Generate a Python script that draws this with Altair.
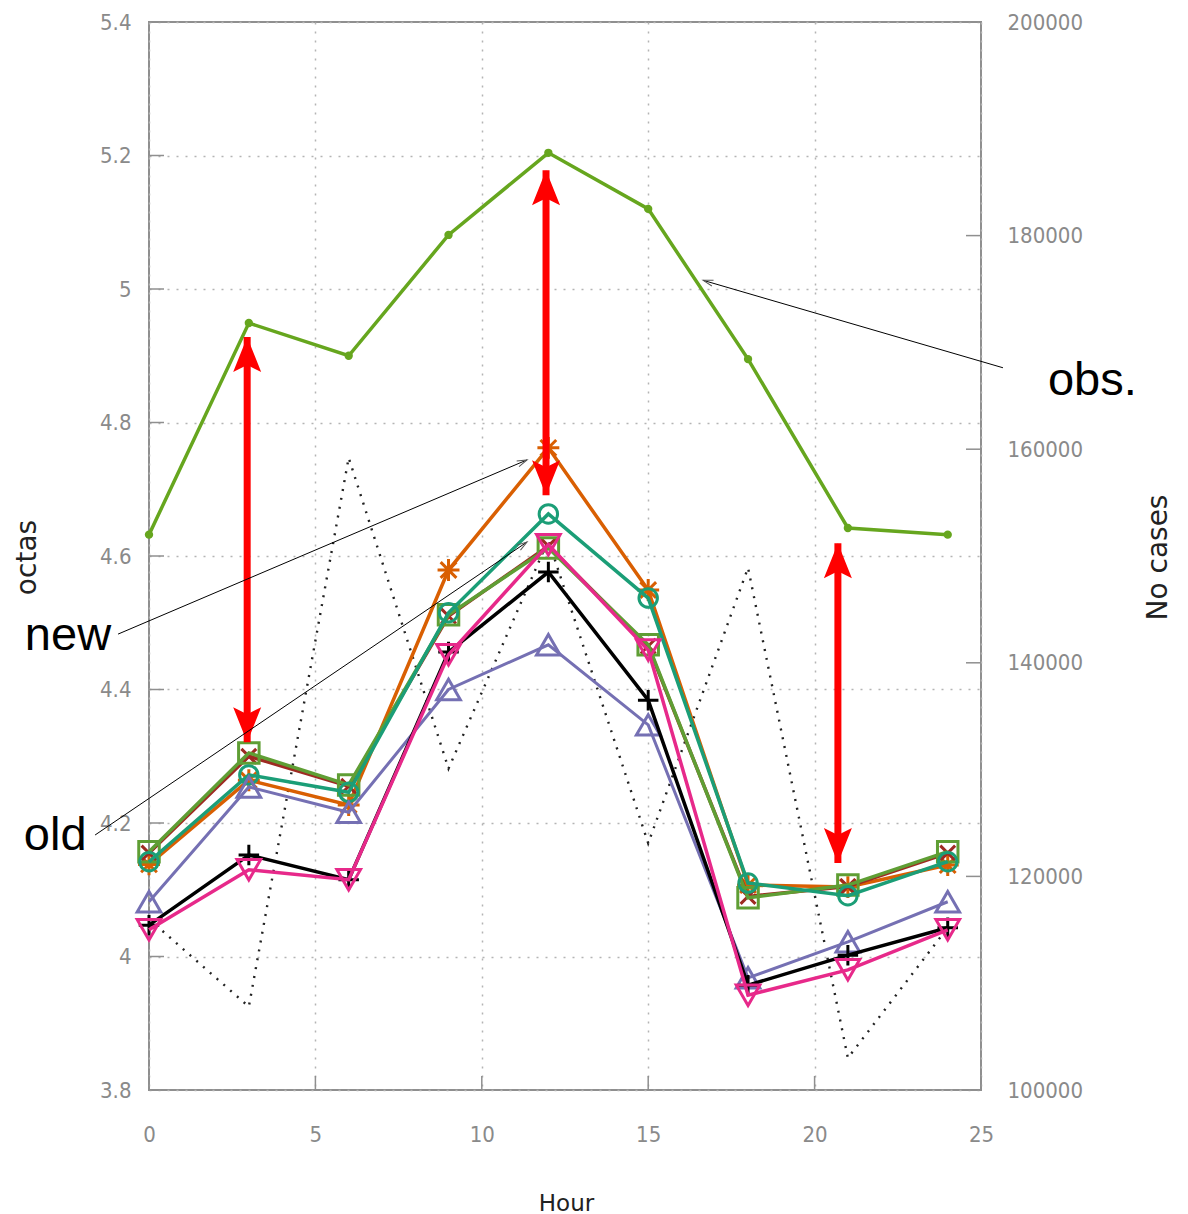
import altair as alt
import pandas as pd

# ---------------- data ----------------
hours = [0, 3, 6, 9, 12, 15, 18, 21, 24]

obs       = [4.632, 4.949, 4.900, 5.081, 5.204, 5.120, 4.895, 4.642, 4.632]
orange    = [4.138, 4.264, 4.227, 4.579, 4.762, 4.549, 4.107, 4.104, 4.137]
teal      = [4.142, 4.272, 4.246, 4.515, 4.663, 4.537, 4.110, 4.091, 4.142]
green_sq  = [4.157, 4.305, 4.257, 4.512, 4.612, 4.467, 4.088, 4.107, 4.157]
darkred_x = [4.155, 4.300, 4.255, 4.510, 4.615, 4.465, 4.090, 4.105, 4.155]
purple    = [4.082, 4.254, 4.216, 4.400, 4.467, 4.347, 3.968, 4.022, 4.082]
black     = [4.047, 4.152, 4.115, 4.456, 4.576, 4.384, 3.957, 4.002, 4.043]
magenta   = [4.040, 4.130, 4.115, 4.452, 4.617, 4.459, 3.942, 3.980, 4.040]

cases = [116000, 107800, 159200, 130100, 151500, 123100, 148900, 103000, 115200]

x_ticks = [0, 5, 10, 15, 20, 25]
y_ticks = [3.8, 4.0, 4.2, 4.4, 4.6, 4.8, 5.0, 5.2, 5.4]
c_ticks = [100000, 120000, 140000, 160000, 180000, 200000]

# red double arrows: x, top tip, bottom tip (octas)
red_x      = [2.95, 11.93, 20.70]
red_top    = [4.928, 5.178, 4.619]
red_bottom = [4.321, 4.691, 4.140]

# thin annotation arrows: start -> tip
ann_labels = ["obs.", "new", "old"]
ann_x0 = [25.66, -0.93, -1.62]
ann_y0 = [4.882, 4.483, 4.182]
ann_x1 = [16.65, 11.36, 11.36]
ann_y1 = [5.013, 4.744, 4.621]
ann_angle = [196.3, 336.9, 325.9]
txt_x = [27.01, -3.73, -3.76]
txt_y = [4.841, 4.459, 4.160]

# ---------------- layout ----------------
W, H = 832, 1068
LEFT, TOP = 149, 22
TICK_FONT = "DejaVu Sans Condensed, DejaVu Sans"
TICK_SIZE = 22
TITLE_FONT = "DejaVu Sans"
GRID = dict(grid=True, gridColor="#b4b4b4", gridDash=[2, 7], gridWidth=1.5)
U = alt.Undefined

xscale = alt.Scale(domain=[0, 25], nice=False, zero=False)
yscale = alt.Scale(domain=[3.8, 5.4], nice=False, zero=False)
cscale = alt.Scale(domain=[100000, 200000], nice=False, zero=False)

x_axis = alt.Axis(values=x_ticks, format="d", domain=False, ticks=False,
                  labelPadding=34, labelFont=TICK_FONT, labelFontSize=TICK_SIZE,
                  labelColor="#8a8a8a", labelFlush=False,
                  title="Hour", titleFont=TITLE_FONT, titleFontSize=23,
                  titleFontWeight="normal", titleColor="#222222",
                  titleX=417, titleY=113, titleBaseline="middle", titleAlign="center",
                  **GRID)
y_axis = alt.Axis(values=y_ticks, format="~g", orient="left", domain=False, ticks=False,
                  labelPadding=18, labelFont=TICK_FONT, labelFontSize=TICK_SIZE,
                  labelColor="#8a8a8a", labelFlush=False,
                  title="octas", titleFont=TITLE_FONT, titleFontSize=28,
                  titleFontWeight="normal", titleColor="#222222",
                  titleX=-122, titleY=535, titleAngle=270,
                  titleBaseline="middle", titleAlign="center",
                  **GRID)
c_axis = alt.Axis(values=c_ticks, format="d", orient="right", domain=False, ticks=False,
                  grid=False, labelPadding=26, labelFont=TICK_FONT, labelFontSize=TICK_SIZE,
                  labelColor="#8a8a8a", labelFlush=False,
                  title="No cases", titleFont=TITLE_FONT, titleFontSize=28,
                  titleFontWeight="normal", titleColor="#222222",
                  titleX=177, titleY=535, titleAngle=270,
                  titleBaseline="middle", titleAlign="center")


def X(axis=U):
    return alt.X("hour:Q", scale=xscale, axis=axis, title="Hour")


def Y(axis=U):
    return alt.Y("octas:Q", scale=yscale, axis=axis, title="octas")


def sdf(vals):
    return pd.DataFrame({"hour": hours, "octas": vals})


PLUS = "M-1,0L1,0M0,-1L0,1"
XSH = "M-1,-1L1,1M-1,1L1,-1"
AST = "M-1,0L1,0M0,-1L0,1M-0.72,-0.72L0.72,0.72M-0.72,0.72L0.72,-0.72"
HEAD = "M0,0L0.8,2L0,1.6L-0.8,2Z"
VHEAD = "M-2,-0.6L0,0L-2,0.6"


def series(vals, color, shape, size, lw=3.5, pw=3):
    base = alt.Chart(sdf(vals))
    line = base.mark_line(color=color, strokeWidth=lw).encode(x=X(), y=Y())
    pts = base.mark_point(shape=shape, filled=False, color=color, size=size,
                          strokeWidth=pw, opacity=1).encode(x=X(), y=Y())
    return [line, pts]


# obs series (first layer owns the axes)
obs_base = alt.Chart(sdf(obs))
obs_line = obs_base.mark_line(color="#66a61e", strokeWidth=3.5).encode(
    x=X(x_axis), y=Y(y_axis))
obs_pts = obs_base.mark_point(shape="circle", filled=True, color="#66a61e",
                              size=70, opacity=1).encode(x=X(), y=Y())

layers = [obs_line, obs_pts]
layers += series(orange, "#d95f02", AST, 480)
layers += series(darkred_x, "#9e2a22", XSH, 220)
layers += series(green_sq, "#5f9e34", "square", 420)
layers += series(teal, "#1b9e77", "circle", 340)
layers += series(purple, "#7570b3", "triangle-up", 560, lw=3)
layers += series(black, "#000000", PLUS, 420)
layers += series(magenta, "#e7298a", "triangle-down", 560)

# inner tick marks (left and bottom)
lt = alt.Chart(pd.DataFrame({"octas": y_ticks})).mark_rule(
    color="#8f8f8f", strokeWidth=1.5).encode(
    y=Y(), x=alt.value(0), x2=alt.value(15))
bt = alt.Chart(pd.DataFrame({"hour": x_ticks})).mark_rule(
    color="#8f8f8f", strokeWidth=1.5).encode(
    x=X(), y=alt.value(H), y2=alt.value(H - 14))

# red double arrows
rdf = pd.DataFrame({"hour": red_x, "octas": red_top, "octas2": red_bottom})
red_shaft = alt.Chart(rdf).mark_rule(color="red", strokeWidth=7).encode(
    x=X(), y=Y(), y2=alt.Y2("octas2:Q", title="octas"))
red_up = alt.Chart(rdf).mark_point(shape=HEAD, filled=True, color="red",
                                   size=1225, opacity=1, strokeWidth=0).encode(x=X(), y=Y())
red_dn = alt.Chart(pd.DataFrame({"hour": red_x, "octas": red_bottom})).mark_point(
    shape=HEAD, filled=True, color="red", size=1225, opacity=1, strokeWidth=0,
    angle=180).encode(x=X(), y=Y())

# thin annotation arrows and texts
adf = pd.DataFrame({"hour": ann_x0, "octas": ann_y0,
                    "hour2": ann_x1, "octas2": ann_y1})
ann_line = alt.Chart(adf).mark_rule(color="black", strokeWidth=1).encode(
    x=X(), y=Y(), x2=alt.X2("hour2:Q", title="Hour"), y2=alt.Y2("octas2:Q", title="octas"))
hdf = pd.DataFrame({"hour": ann_x1, "octas": ann_y1, "ang": ann_angle})
ann_head = alt.Chart(hdf).mark_point(shape=VHEAD, filled=False, color="#555555",
                                     size=100, strokeWidth=1, opacity=1).encode(
    x=X(), y=Y(), angle=alt.Angle("ang:Q", scale=None))
tdf = pd.DataFrame({"hour": txt_x, "octas": txt_y, "label": ann_labels})
ann_text = alt.Chart(tdf).mark_text(font="Liberation Sans", fontSize=47,
                                    align="left", baseline="alphabetic",
                                    color="black").encode(x=X(), y=Y(), text="label:N")

layers += [lt, bt, red_shaft, red_up, red_dn, ann_line, ann_head, ann_text]
octas_layer = alt.layer(*layers)

# No cases (right axis), dotted
cdf = pd.DataFrame({"hour": hours, "cases": cases})
cases_line = alt.Chart(cdf).mark_line(color="#222222", strokeWidth=2.4,
                                      strokeDash=[2, 7]).encode(
    x=X(), y=alt.Y("cases:Q", scale=cscale, axis=c_axis, title="No cases"))
rt = alt.Chart(pd.DataFrame({"cases": c_ticks})).mark_rule(
    color="#8f8f8f", strokeWidth=1.5).encode(
    y=alt.Y("cases:Q", scale=cscale, title="No cases"),
    x=alt.value(W - 15), x2=alt.value(W))
cases_layer = alt.layer(cases_line, rt)

chart = alt.layer(cases_layer, octas_layer).resolve_scale(y="independent").properties(
    width=W, height=H,
    padding={"left": LEFT, "top": TOP, "right": 1188 - LEFT - W, "bottom": 1214 - TOP - H},
    autosize=alt.AutoSizeParams(type="none"),
    background="white",
).configure_view(stroke="#8f8f8f", strokeWidth=2)

chart.save("out.html", embed_options={"renderer": "svg", "actions": False})
